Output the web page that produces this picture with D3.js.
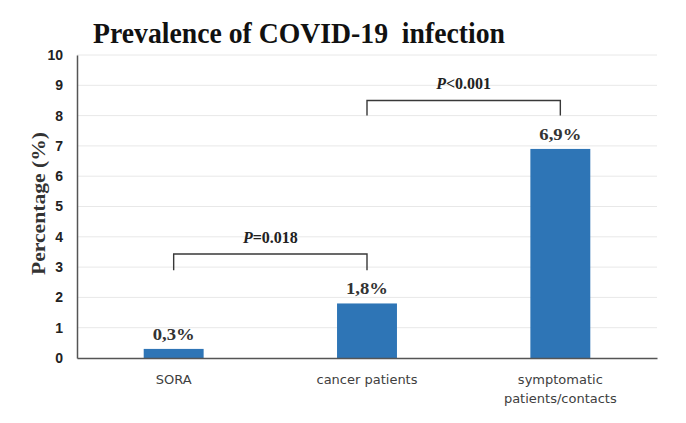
<!DOCTYPE html>
<html>
<head>
<meta charset="utf-8">
<script src="https://cdn.jsdelivr.net/npm/d3@7"></script>
<style>
  html, body { margin: 0; padding: 0; background: #fff; }
  svg { display: block; }
</style>
</head>
<body>
<svg id="chart" width="686" height="423"></svg>
<script>
// ---- data ----
const categories = ["SORA", "cancer patients", "symptomatic patients/contacts"];
const categoryLines = [["SORA"], ["cancer patients"], ["symptomatic", "patients/contacts"]];
const values = [0.3, 1.8, 6.9];
const valueLabels = ["0,3%", "1,8%", "6,9%"];
const yTicks = [0, 1, 2, 3, 4, 5, 6, 7, 8, 9, 10];
const compFrom = ["SORA", "cancer patients"];
const compTo = ["cancer patients", "symptomatic patients/contacts"];
const compPrefix = ["P", "P"];
const compText = ["=0.018", "<0.001"];
const compLevel = [3.43, 8.5];
const compDrop = [0.53, 0.5];
const titleText = "Prevalence of COVID-19\u00a0 infection";
const yTitle = "Percentage (%)";

(function () {
// ---- layout ----
const svg = d3.select("#chart");
const mLeft = 77, mRight = 657, mTop = 55, mBottom = 358;
const serif = "'Liberation Serif', 'Times New Roman', serif";

const x = d3.scaleBand().domain(categories).range([mLeft, mRight])
  .paddingInner(0.69).paddingOuter(0.345);
const y = d3.scaleLinear().domain([0, 10]).range([mBottom, mTop]);

// gridlines
svg.append("g")
  .selectAll("line").data(yTicks.filter(d => d > 0)).join("line")
  .attr("x1", mLeft).attr("x2", mRight)
  .attr("y1", d => y(d)).attr("y2", d => y(d))
  .attr("stroke", "#e8e8e8").attr("stroke-width", 1);

// y axis
const yAxis = svg.append("g").attr("transform", `translate(${mLeft},0)`)
  .call(d3.axisLeft(y).tickValues(yTicks).tickSize(0).tickPadding(14).tickFormat(d3.format("d")));
yAxis.select(".domain").attr("stroke", "#555").attr("stroke-width", 1.5);
yAxis.selectAll("text")
  .attr("font-family", "'Liberation Sans', Arial, sans-serif")
  .attr("font-weight", "bold").attr("font-size", 14).attr("fill", "#222");

// bars
svg.append("g").selectAll("rect").data(categories).join("rect")
  .attr("x", d => x(d)).attr("width", x.bandwidth())
  .attr("y", (d, i) => y(values[i]))
  .attr("height", (d, i) => y(0) - y(values[i]))
  .attr("fill", "#2E75B6");

// x axis baseline
const xAxis = svg.append("g").attr("transform", `translate(0,${mBottom})`)
  .call(d3.axisBottom(x).tickSize(0).tickFormat(""));
xAxis.select(".domain").attr("stroke", "#555").attr("stroke-width", 1.5);

// category labels
const catG = svg.append("g");
categories.forEach((c, i) => {
  const t = catG.append("text")
    .attr("x", x(c) + x.bandwidth() / 2).attr("y", 384)
    .attr("text-anchor", "middle")
    .attr("font-family", "'DejaVu Sans', Verdana, sans-serif")
    .attr("font-size", 13).attr("fill", "#404040");
  categoryLines[i].forEach((ln, j) => {
    t.append("tspan").attr("x", x(c) + x.bandwidth() / 2).attr("dy", j === 0 ? 0 : 19).text(ln);
  });
});

// value labels
svg.append("g").selectAll("text").data(categories).join("text")
  .attr("x", d => x(d) + x.bandwidth() / 2)
  .attr("y", (d, i) => y(values[i]) - 9)
  .attr("text-anchor", "middle")
  .attr("font-family", serif)
  .attr("font-weight", "bold").attr("font-size", 17).attr("fill", "#333")
  .attr("textLength", 42).attr("lengthAdjust", "spacingAndGlyphs")
  .text((d, i) => valueLabels[i]);

// comparison brackets
const compG = svg.append("g");
compFrom.forEach((f, i) => {
  const x1 = x(f) + x.bandwidth() / 2;
  const x2 = x(compTo[i]) + x.bandwidth() / 2;
  const yl = y(compLevel[i]);
  const yd = y(compLevel[i] - compDrop[i]);
  compG.append("path")
    .attr("d", `M${x1},${yd}V${yl}H${x2}V${yd}`)
    .attr("fill", "none").attr("stroke", "#383838").attr("stroke-width", 1.4);
  const t = compG.append("text")
    .attr("x", (x1 + x2) / 2).attr("y", yl - 11)
    .attr("text-anchor", "middle")
    .attr("font-family", serif)
    .attr("font-weight", "bold").attr("font-size", 16).attr("fill", "#222");
  t.append("tspan").attr("font-style", "italic").text(compPrefix[i]);
  t.append("tspan").text(compText[i]);
});

// title
svg.append("text")
  .attr("transform", "translate(93,43) scale(1,1.08)")
  .attr("font-family", serif)
  .attr("font-weight", "bold").attr("font-size", 28).attr("fill", "#111")
  .attr("textLength", 412).attr("lengthAdjust", "spacingAndGlyphs")
  .text(titleText);

// y title
svg.append("text")
  .attr("transform", `translate(45,203.5) rotate(-90)`)
  .attr("text-anchor", "middle")
  .attr("font-family", serif)
  .attr("font-weight", "bold").attr("font-size", 19).attr("fill", "#333")
  .attr("textLength", 143).attr("lengthAdjust", "spacingAndGlyphs")
  .text(yTitle);
})();
</script>
</body>
</html>
